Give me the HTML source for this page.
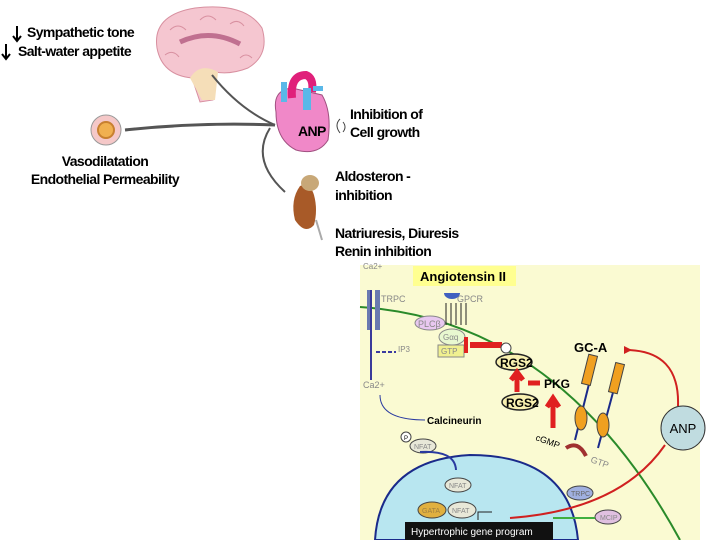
<!DOCTYPE html><html><head><style>body{margin:0;background:#fff}svg{display:block}text{font-family:"Liberation Sans",sans-serif}</style></head><body>
<svg width="720" height="540" viewBox="0 0 720 540">
<text x="27" y="37" font-size="14" font-weight="bold" letter-spacing="-0.6">Sympathetic tone</text>
<text x="18" y="56" font-size="14" font-weight="bold" letter-spacing="-0.6">Salt-water appetite</text>
<path d="M17 26v14M13 36l4 5 4-5M6 44v14M2 54l4 5 4-5" stroke="#000" stroke-width="2" fill="none"/>
<!-- brain -->
<path d="M157 48 Q152 15 195 8 Q245 2 262 28 Q270 55 248 68 Q230 75 215 72 L213 100 L200 102 L192 78 Q162 75 157 48Z" fill="#f5c6d0" stroke="#d890a0"/>
<path d="M190 78 Q200 62 218 72 L215 100 L202 100Z" fill="#f5deb8"/>
<path d="M180 42 Q210 28 240 44" stroke="#c07090" stroke-width="5" fill="none"/>
<path d="M170 30 q8 -8 16 0 M200 20 q8 -8 16 0 M230 24 q8 -6 14 2 M165 55 q8 -6 14 2 M240 58 q6 -6 12 0" stroke="#d890a0" fill="none"/>
<!-- vessel -->
<circle cx="106" cy="130" r="15" fill="#f5c8c8" stroke="#999"/><circle cx="106" cy="130" r="8" fill="#f0b050" stroke="#c88030" stroke-width="2"/>
<text x="105" y="166" font-size="14" font-weight="bold" text-anchor="middle" letter-spacing="-0.6">Vasodilatation</text>
<text x="105" y="184" font-size="14" font-weight="bold" text-anchor="middle" letter-spacing="-0.6">Endothelial Permeability</text>
<!-- arrows -->
<path d="M275 125 Q200 122 125 130" stroke="#555" stroke-width="3" fill="none"/>
<path d="M275 125 Q240 110 212 75" stroke="#555" stroke-width="2" fill="none"/>
<path d="M270 128 Q250 160 285 192" stroke="#555" stroke-width="2" fill="none"/>
<!-- heart -->
<path d="M276 112 Q272 90 292 88 L322 95 Q332 112 328 140 Q318 156 296 150 Q276 140 276 112Z" fill="#f088c8" stroke="#a05080"/>
<path d="M292 98 Q290 75 306 75 Q314 78 312 92" stroke="#e0207a" stroke-width="8" fill="none"/>
<rect x="303" y="88" width="8" height="22" fill="#5ab8e8"/><rect x="281" y="82" width="6" height="20" fill="#5ab8e8"/><rect x="313" y="86" width="10" height="5" fill="#5ab8e8"/>
<text x="298" y="136" font-size="14" font-weight="bold" letter-spacing="-0.6">ANP</text>
<path d="M340 119 q-6 6 0 14 M343 122 q4 5 0 10" stroke="#444" fill="none"/>
<text x="350" y="119" font-size="14" font-weight="bold" letter-spacing="-0.6">Inhibition of</text>
<text x="350" y="137" font-size="14" font-weight="bold" letter-spacing="-0.6">Cell growth</text>
<!-- kidney -->
<path d="M300 186 Q290 200 295 220 Q305 235 314 225 Q318 210 314 195 Q310 182 300 186Z" fill="#a85a28"/>
<ellipse cx="310" cy="183" rx="9" ry="8" fill="#c8a878"/>
<path d="M316 220 L322 240" stroke="#aaa" stroke-width="2"/>
<text x="335" y="181" font-size="14" font-weight="bold" letter-spacing="-0.6">Aldosteron -</text>
<text x="335" y="200" font-size="14" font-weight="bold" letter-spacing="-0.6">inhibition</text>
<text x="335" y="238" font-size="14" font-weight="bold" letter-spacing="-0.6">Natriuresis, Diuresis</text>
<text x="335" y="256" font-size="14" font-weight="bold" letter-spacing="-0.6">Renin inhibition</text>
<!-- bottom panel -->
<rect x="360" y="265" width="340" height="275" fill="#fafad2"/>
<path d="M360 307 Q560 320 680 540" stroke="#2a8a2a" stroke-width="2" fill="none"/>
<path d="M375 540 Q380 460 470 455 Q570 455 578 540Z" fill="#b8e6f0" stroke="#1a2a8a" stroke-width="2"/>
<rect x="413" y="266" width="103" height="20" fill="#ffff90"/>
<text x="420" y="281" font-size="13" font-weight="bold">Angiotensin II</text>
<rect x="367" y="290" width="5" height="40" fill="#6a7ab0"/><rect x="375" y="290" width="5" height="40" fill="#6a7ab0"/>
<line x1="371" y1="290" x2="371" y2="380" stroke="#3a3a9a" stroke-width="2"/>
<path d="M376 352 h20" stroke="#3a3aa0" stroke-width="2" stroke-dasharray="4 2"/>
<text x="381" y="302" font-size="9" fill="#888">TRPC</text>
<text x="457" y="302" font-size="9" fill="#888">GPCR</text>
<path d="M444 293 a8 6 0 0 0 16 0" fill="#4060c0"/>
<path d="M446 325v-22M451 325v-22M456 325v-22M461 325v-22M466 325v-22" stroke="#222" fill="none"/>
<text x="363" y="269" font-size="8" fill="#888">Ca2+</text>
<text x="363" y="388" font-size="9" fill="#888">Ca2+</text>
<ellipse cx="430" cy="323" rx="15" ry="7" fill="#e8c8f0" stroke="#888"/><text x="418" y="327" font-size="9" fill="#888">PLCβ</text>
<ellipse cx="452" cy="337" rx="13" ry="8" fill="#e8f8d0" stroke="#888"/><text x="443" y="340" font-size="8" fill="#888">Gαq</text>
<rect x="438" y="345" width="26" height="12" fill="#f0f090" stroke="#888"/><text x="441" y="354" font-size="8" fill="#888">GTP</text>
<text x="398" y="352" font-size="8" fill="#888">IP3</text>
<path d="M502 345 H470" stroke="#e02020" stroke-width="6"/><path d="M466 337v16" stroke="#e02020" stroke-width="4"/>
<circle cx="506" cy="348" r="5" fill="#fff" stroke="#444"/>
<ellipse cx="514" cy="362" rx="18" ry="8" fill="#f8f0b0" stroke="#222" stroke-width="1.5"/><text x="500" y="367" font-size="12" font-weight="bold">RGS2</text>
<ellipse cx="520" cy="402" rx="18" ry="8" fill="#f8f0b0" stroke="#222" stroke-width="1.5"/><text x="506" y="407" font-size="12" font-weight="bold">RGS2</text>
<path d="M517 392V378M511 380l6-8 6 8" stroke="#e02020" stroke-width="5" fill="#e02020"/>
<path d="M540 383H528" stroke="#e02020" stroke-width="5"/>
<text x="544" y="388" font-size="12" font-weight="bold">PKG</text>
<path d="M553 428V405M547 407l6-9 6 9" stroke="#e02020" stroke-width="5" fill="#e02020"/>
<text x="535" y="440" font-size="9" transform="rotate(20 535 440)">cGMP</text>
<path d="M566 448 q12 -8 20 8" stroke="#a03030" stroke-width="4" fill="none"/>
<text x="590" y="462" font-size="9" fill="#888" transform="rotate(20 590 462)">GTP</text>
<text x="574" y="352" font-size="13" font-weight="bold">GC-A</text>
<g stroke="#1a2a8a" stroke-width="2"><path d="M590 380L575 440M615 385L598 448"/></g>
<rect x="585" y="355" width="9" height="30" fill="#f0a020" stroke="#444" transform="rotate(14 590 370)"/>
<rect x="612" y="363" width="9" height="30" fill="#f0a020" stroke="#444" transform="rotate(14 616 378)"/>
<ellipse cx="581" cy="418" rx="6" ry="12" fill="#f0a020" stroke="#444"/><ellipse cx="603" cy="425" rx="6" ry="12" fill="#f0a020" stroke="#444"/>
<path d="M678 406 Q680 350 625 350" stroke="#d02020" stroke-width="2" fill="none"/>
<path d="M632 350l-8 -4v8z" fill="#d02020"/>
<path d="M665 445 Q620 510 510 518" stroke="#d02020" stroke-width="2" fill="none"/>
<circle cx="683" cy="428" r="22" fill="#c0dce0" stroke="#333"/><text x="683" y="433" font-size="13" text-anchor="middle">ANP</text>
<path d="M380 395 Q380 420 425 420" stroke="#2a3aa0" fill="none"/>
<text x="427" y="424" font-size="10" font-weight="bold">Calcineurin</text>
<circle cx="406" cy="437" r="5" fill="#fff" stroke="#444"/><text x="404" y="440" font-size="6">P</text>
<ellipse cx="423" cy="446" rx="13" ry="7" fill="#e8e8d8" stroke="#444"/><text x="414" y="449" font-size="7" fill="#888">NFAT</text>
<path d="M420 452 Q455 450 456 470" stroke="#2a3aa0" stroke-width="2" fill="none"/>
<ellipse cx="458" cy="485" rx="13" ry="7" fill="#e8e8d8" stroke="#444"/><text x="449" y="488" font-size="7" fill="#888">NFAT</text>
<ellipse cx="432" cy="510" rx="14" ry="8" fill="#e0b040" stroke="#444"/><text x="422" y="513" font-size="7" fill="#a08040">GATA</text>
<ellipse cx="462" cy="510" rx="14" ry="8" fill="#e8e8d8" stroke="#444"/><text x="452" y="513" font-size="7" fill="#888">NFAT</text>
<path d="M478 520 v-8 h14" stroke="#222" fill="none"/>
<ellipse cx="580" cy="493" rx="13" ry="7" fill="#a0b0e0" stroke="#444"/><text x="571" y="496" font-size="7" fill="#666">TRPC</text>
<ellipse cx="608" cy="517" rx="13" ry="7" fill="#e0c0e0" stroke="#444"/><text x="600" y="520" font-size="7" fill="#888">MCIP</text>
<path d="M553 518H595" stroke="#40b040" stroke-width="2"/>
<rect x="405" y="522" width="148" height="18" fill="#111"/>
<text x="411" y="535" font-size="10" fill="#fff">Hypertrophic gene program</text>
</svg></body></html>
